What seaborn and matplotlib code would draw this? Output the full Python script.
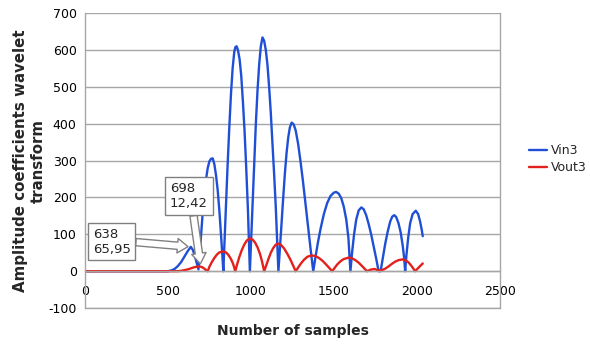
import matplotlib
matplotlib.use("Agg")
import matplotlib.pyplot as plt
import seaborn as sns
import pandas as pd
from matplotlib.lines import Line2D

# ---- data ----
vin_x = [0, 500, 520, 540, 560, 580, 600, 620, 638, 650, 660, 670, 678, 684,
         692, 700, 710, 720, 730, 740, 750, 760, 770, 780, 790, 800, 810, 820, 828, 834,
         842, 850, 860, 870, 880, 890, 900, 907, 914, 922, 932, 942, 952, 962, 972, 982, 990, 994,
         1002, 1010, 1020, 1030, 1040, 1050, 1060, 1070, 1080, 1090, 1100, 1110, 1120, 1130, 1140, 1150, 1158, 1166,
         1175, 1185, 1195, 1205, 1215, 1225, 1235, 1246, 1258, 1270, 1285, 1300, 1315, 1330, 1345, 1360, 1376,
         1390, 1405, 1420, 1440, 1460, 1480, 1500, 1514, 1530, 1545, 1560, 1575, 1588, 1595, 1600,
         1610, 1622, 1635, 1650, 1666, 1680, 1695, 1710, 1725, 1740, 1755, 1770, 1782,
         1795, 1810, 1825, 1840, 1852, 1864, 1876, 1890, 1903, 1915, 1923, 1930,
         1938, 1948, 1960, 1975, 1994, 2008, 2020, 2030, 2036]
vin_y = [0, 0, 2, 6, 14, 25, 40, 55, 65.95, 58, 45, 28, 14, 5,
         50, 100, 160, 210, 250, 280, 298, 305, 306, 290, 260, 220, 165, 100, 45, 0,
         90, 180, 290, 390, 480, 550, 595, 608, 610, 600, 575, 530, 460, 380, 280, 170, 60, 0,
         90, 175, 290, 400, 490, 560, 610, 634, 625, 600, 560, 500, 430, 350, 265, 175, 90, 0,
         60, 130, 200, 265, 320, 362, 390, 403, 398, 382, 345, 295, 240, 180, 120, 60, 0,
         40, 80, 115, 155, 185, 204, 213, 215, 210, 198, 175, 140, 90, 40, 0,
         50, 100, 140, 165, 173, 168, 152, 128, 100, 68, 35, 0, 0,
         35, 75, 108, 135, 148, 152, 147, 130, 105, 70, 40, 0,
         45, 90, 130, 155, 164, 155, 135, 112, 95]

vout_x = [0, 560, 580, 600, 620, 640, 660, 680, 698, 710, 725, 740,
          750, 765, 780, 795, 810, 834, 850, 865, 880, 893, 906,
          916, 930, 945, 960, 975, 994, 1010, 1025, 1040, 1055, 1068, 1080,
          1092, 1105, 1120, 1135, 1150, 1162, 1180, 1200, 1220, 1240, 1255, 1270,
          1285, 1300, 1320, 1340, 1365, 1390, 1410, 1430, 1450, 1470, 1490,
          1505, 1520, 1540, 1560, 1590, 1610, 1630, 1650, 1670, 1685, 1700,
          1720, 1745, 1770, 1790,
          1810, 1830, 1850, 1870, 1890, 1914, 1935, 1950, 1965, 1978, 1990, 2005, 2020, 2036]
vout_y = [0, 0, 1, 3, 5, 8, 11, 12.5, 12.42, 10, 5, 0,
          12, 25, 36, 45, 51, 54, 51, 44, 33, 20, 0,
          17, 38, 57, 72, 83, 89, 86, 78, 65, 47, 25, 0,
          15, 32, 50, 63, 72, 75, 72, 62, 47, 30, 15, 0,
          10, 20, 31, 39, 43, 41, 36, 29, 20, 10, 0,
          9, 18, 27, 33, 37, 35, 30, 23, 14, 7, 0,
          4, 6, 2, 3,
          7, 13, 20, 26, 30, 32, 29, 24, 16, 8, 0, 7, 14, 21]

series_names = ["Vin3", "Vout3"]
x_ticks = [0, 500, 1000, 1500, 2000, 2500]
y_ticks = [-100, 0, 100, 200, 300, 400, 500, 600, 700]
ann1 = (638, 65.95, "638\n65,95")
ann2 = (698, 12.42, "698\n12,42")

df = pd.concat([
    pd.DataFrame({"x": vin_x, "y": vin_y, "series": series_names[0]}),
    pd.DataFrame({"x": vout_x, "y": vout_y, "series": series_names[1]}),
], ignore_index=True)

sns.set_theme(style="white")
plt.rcParams["font.family"] = ["DejaVu Sans"]
plt.rcParams["axes.unicode_minus"] = False

fig = plt.figure(figsize=(5.9, 3.45), dpi=100)
ax = fig.add_axes([0.144, 0.107, 0.703, 0.855])

palette = {"Vin3": "#1f4fd6", "Vout3": "#e3201b"}
sns.lineplot(data=df, x="x", y="y", hue="series", palette=palette,
             sort=False, estimator=None, units="series", linewidth=1.7, ax=ax, legend=False)

ax.set_xlim(0, 2500)
ax.set_ylim(-100, 700)
ax.set_xticks(x_ticks)
ax.set_yticks(y_ticks)
ax.grid(axis="y", color="#a6a6a6", linewidth=1.0)
ax.set_axisbelow(True)
ax.axhline(-100, color="#a6a6a6", linewidth=1.0, clip_on=False, zorder=0.5)

for s in ["left", "right", "top", "bottom"]:
    ax.spines[s].set_color("#a6a6a6")
    ax.spines[s].set_linewidth(1.0)
ax.spines["bottom"].set_position(("data", 0))
ax.spines["top"].set_visible(False)

ax.tick_params(axis="both", labelsize=9, colors="#000000", length=4, width=1.0, direction="out")
ax.tick_params(axis="x", pad=6)
ax.tick_params(axis="y", pad=2)
for t in ax.get_xticklines() + ax.get_yticklines():
    t.set_color("#a6a6a6")

ax.set_xlabel("")
ax.set_ylabel("Amplitude coefficients wavelet\ntransform", fontsize=10.8, fontweight="bold", labelpad=2)
fig.text(0.496, 0.04, "Number of samples", fontsize=10, fontweight="bold", ha="center", va="center")

arrow_style = "simple,head_width=1.1,head_length=0.8,tail_width=0.55"
ax.annotate(ann1[2], xy=(ann1[0], ann1[1]), xytext=(48, 118), textcoords="data",
            ha="left", va="top", fontsize=9.5,
            bbox=dict(boxstyle="square,pad=0.35", fc="white", ec="#808080", lw=1.0),
            arrowprops=dict(arrowstyle=arrow_style,
                            fc="white", ec="#808080", lw=1.0, relpos=(1.0, 0.5),
                            shrinkA=0, shrinkB=2))
ax.annotate(ann2[2], xy=(ann2[0], ann2[1]), xytext=(512, 242), textcoords="data",
            ha="left", va="top", fontsize=9.5,
            bbox=dict(boxstyle="square,pad=0.4", fc="white", ec="#808080", lw=1.0),
            arrowprops=dict(arrowstyle=arrow_style,
                            fc="white", ec="#808080", lw=1.0, relpos=(0.6, 0.0),
                            shrinkA=0, shrinkB=2))

handles = [Line2D([], [], color=palette[n], lw=1.7) for n in series_names]
ax.legend(handles, series_names, loc="center left", bbox_to_anchor=(1.05, 0.505),
          frameon=False, fontsize=9, handlelength=1.4, handletextpad=0.3, labelspacing=0.3,
          borderpad=0.2)

fig.savefig("out.png", dpi=100)
